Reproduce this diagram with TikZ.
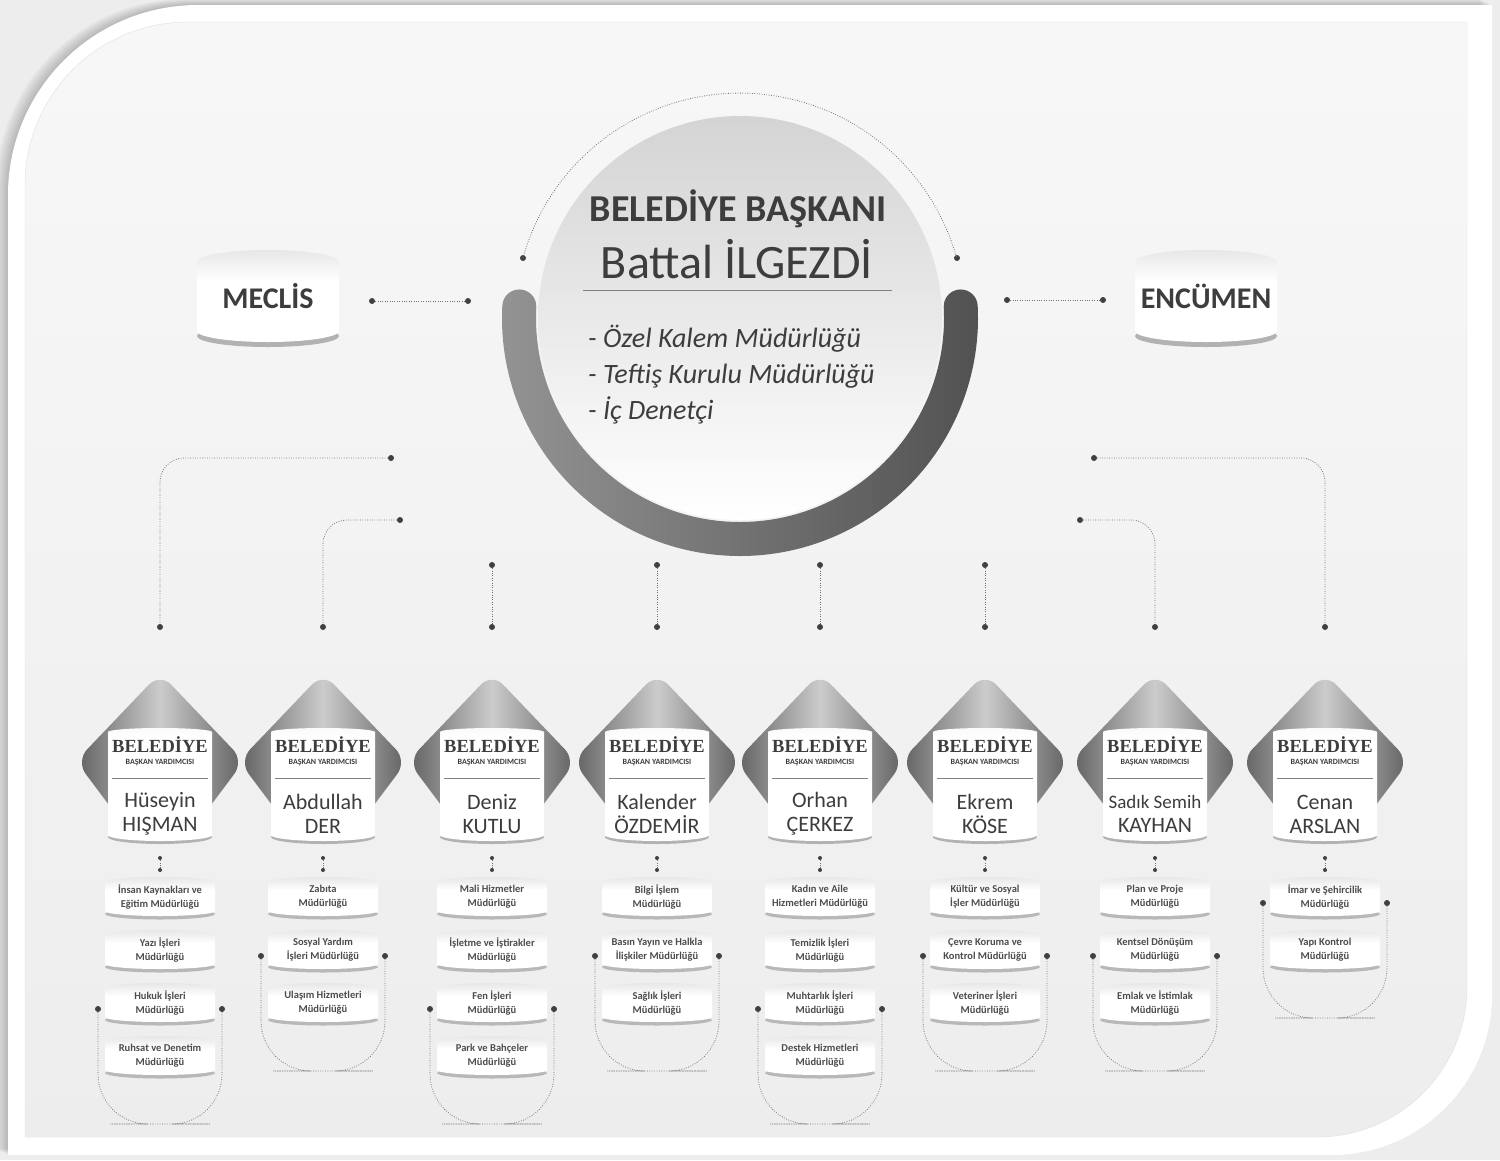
\documentclass[tikz,border=0pt]{standalone}
\usepackage{fontspec}
\setmainfont{Carlito}
\newfontfamily\headserif{Liberation Serif}
\usetikzlibrary{shadings}

\pgfdeclareverticalshading{drumshade}{100bp}{color(0bp)=(white); color(58bp)=(white); color(80bp)=(black!12); color(100bp)=(black!36)}
\pgfdeclareverticalshading{cardshade}{100bp}{color(0bp)=(white); color(70bp)=(white); color(100bp)=(black!12)}

\begin{document}
\begin{tikzpicture}[x=1pt,y=-1pt,
every node/.style={text=black!76},
dotline/.style={draw=black!55, line width=0.8pt, dash pattern=on 0.8pt off 1.6pt},
dot/.style={circle, fill=black!75, inner sep=0pt, minimum size=6pt},
tinydot/.style={circle, fill=black!75, inner sep=0pt, minimum size=4pt},
sepline/.style={draw=black!50, line width=0.9pt},
mayor/.style={circle, inner sep=0pt, minimum size=404pt, top color=black!17, bottom color=white},
mayortitle/.style={anchor=base, inner sep=0pt, font=\fontsize{38}{40}\selectfont\bfseries},
mayorname/.style={anchor=base, inner sep=0pt, font=\fontsize{48}{50}\selectfont},
mayorunits/.style={anchor=north west, inner sep=0pt, align=left, font=\fontsize{28}{36}\selectfont\itshape},
boardtext/.style={anchor=base, inner sep=0pt, font=\fontsize{30}{32}\selectfont\bfseries},
cardhead/.style={anchor=base, inner sep=0pt, font=\headserif\fontsize{18.5}{20}\selectfont\bfseries},
cardsub/.style={anchor=base, inner sep=0pt, font=\fontsize{8}{9}\selectfont\bfseries},
cardname/.style={inner sep=0pt, align=center, font=\fontsize{22}{24}\selectfont},
depttext/.style={inner sep=0pt, align=center, font=\fontsize{10.5}{14}\selectfont\bfseries, text=black!70},
board/.pic={
  \fill[black!30] (0,39) ellipse[x radius=71pt, y radius=11pt];
  \shade[shading=drumshade] (-71,-35) arc[start angle=180, end angle=0, x radius=71pt, y radius=12pt]
    -- (71,34) arc[start angle=0, end angle=-180, x radius=71pt, y radius=11pt] -- cycle;
},
dept/.pic={
  \fill[black!28] (0,17) ellipse[x radius=55pt, y radius=5.5pt];
  \shade[shading=drumshade] (-55,-15) arc[start angle=180, end angle=0, x radius=55pt, y radius=5pt]
    -- (55,14) arc[start angle=0, end angle=-180, x radius=55pt, y radius=5pt] -- cycle;
},
deputy/.pic={
  \shade[left color=black!62, right color=black!62, middle color=black!20, rounded corners=16]
    (0,-92) -- (84,-4) -- (24,76) -- (-24,76) -- (-84,-4) -- cycle;
  \fill[black!30] (0,72) ellipse[x radius=52pt, y radius=7pt];
  \shade[shading=cardshade] (-52,-33) arc[start angle=180, end angle=0, x radius=52pt, y radius=4pt]
    -- (52,70) arc[start angle=0, end angle=-180, x radius=52pt, y radius=6pt] -- cycle;
},
]
\useasboundingbox (0,0) rectangle (1500,1160);

% Frame and panel
\fill[black!7] (0,0) rectangle (1500,1160);
\foreach \s in {2,4,...,12}{
  \fill[black, opacity=0.035, shift={(-\s,-\s/2)}] (8,1155) -- (8,195) arc[start angle=180, end angle=90, radius=190pt]
    -- (1492,5) -- (1492,995) arc[start angle=0, end angle=-90, radius=160pt] -- cycle;
}
\fill[white] (8,1155) -- (8,195) arc[start angle=180, end angle=90, radius=190pt]
  -- (1492,5) -- (1492,995) arc[start angle=0, end angle=-90, radius=160pt] -- cycle;
\shadedraw[top color=black!3, bottom color=black!7, draw=black!12] (25,1137) -- (25,185) arc[start angle=180, end angle=90, radius=163pt]
  -- (1467,22) -- (1467,987) arc[start angle=0, end angle=-90, radius=150pt] -- cycle;

% Mayor
\coordinate (mc) at (740,318);
\node[dot] (arcL) at (523,258) {};
\node[dot] (arcR) at (957,258) {};
\draw[dotline] (arcL.center) arc[start angle=164.5, end angle=15.5, radius=225pt];
\shade[left color=black!42, right color=black!68] (mc) ++(177:238pt) arc[start angle=177, end angle=363, radius=238pt]
  arc[start angle=3, end angle=183, radius=17pt] arc[start angle=363, end angle=177, radius=204pt]
  arc[start angle=357, end angle=537, radius=17pt] -- cycle;
\node[mayor] (mayor) at (mc) {};
\node[mayortitle] (title) at (738,221) {BELEDİYE BAŞKANI};
\node[mayorname] (mname) at (737,278) {Battal İLGEZDİ};
\draw[sepline] (583,290) -- (892,290);
\node[mayorunits] (units) at (588,325) {- Özel Kalem Müdürlüğü\\- Teftiş Kurulu Müdürlüğü\\- İç Denetçi};

% Meclis and Encumen
\pic at (268,297) {board};
\node[boardtext] (meclis) at (268,308) {MECLİS};
\pic at (1206,297) {board};
\node[boardtext] (encumen) at (1206,308) {ENCÜMEN};
\node[dot] (ml) at (372,301) {};
\node[dot] (mr) at (468,301) {};
\draw[dotline] (ml) -- (mr);
\node[dot] (el) at (1007,300) {};
\node[dot] (er) at (1103,300) {};
\draw[dotline] (el) -- (er);

% Links down to the deputies
\foreach \i/\sx/\sy/\ex in {1/391/458/160, 2/400/520/323, 7/1080/520/1155, 8/1094/458/1325}{
  \node[dot] (s\i) at (\sx,\sy) {};
  \node[dot] (e\i) at (\ex,627) {};
  \draw[dotline, rounded corners=24] (s\i) -| (e\i);
}
\foreach \i/\ex in {3/492, 4/657, 5/820, 6/985}{
  \node[dot] (s\i) at (\ex,565) {};
  \node[dot] (e\i) at (\ex,627) {};
  \draw[dotline] (s\i) -- (e\i);
}

% Deputies and their departments
\foreach \i/\cx/\fname/\lname/\n/\items in {
 1/160/Hüseyin/HIŞMAN/4/{İnsan Kaynakları ve\\Eğitim Müdürlüğü,Yazı İşleri\\Müdürlüğü,Hukuk İşleri\\Müdürlüğü,Ruhsat ve Denetim\\Müdürlüğü},
 2/323/Abdullah/DER/3/{Zabıta\\Müdürlüğü,Sosyal Yardım\\İşleri Müdürlüğü,Ulaşım Hizmetleri\\Müdürlüğü},
 3/492/Deniz/KUTLU/4/{Mali Hizmetler\\Müdürlüğü,İşletme ve İştirakler\\Müdürlüğü,Fen İşleri\\Müdürlüğü,Park ve Bahçeler\\Müdürlüğü},
 4/657/Kalender/ÖZDEMİR/3/{Bilgi İşlem\\Müdürlüğü,Basın Yayın ve Halkla\\İlişkiler Müdürlüğü,Sağlık İşleri\\Müdürlüğü},
 5/820/Orhan/ÇERKEZ/4/{Kadın ve Aile\\Hizmetleri Müdürlüğü,Temizlik İşleri\\Müdürlüğü,Muhtarlık İşleri\\Müdürlüğü,Destek Hizmetleri\\Müdürlüğü},
 6/985/Ekrem/KÖSE/3/{Kültür ve Sosyal\\İşler Müdürlüğü,Çevre Koruma ve\\Kontrol Müdürlüğü,Veteriner İşleri\\Müdürlüğü},
 7/1155/{\fontsize{19}{24}\selectfont Sadık Semih}/KAYHAN/3/{Plan ve Proje\\Müdürlüğü,Kentsel Dönüşüm\\Müdürlüğü,Emlak ve İstimlak\\Müdürlüğü},
 8/1325/Cenan/ARSLAN/2/{İmar ve Şehircilik\\Müdürlüğü,Yapı Kontrol\\Müdürlüğü}}{
  \pic at (\cx,765) {deputy};
  \node[cardhead] (dh\i) at (\cx,752) {BELEDİYE};
  \node[cardsub] (ds\i) at (\cx,764) {BAŞKAN YARDIMCISI};
  \draw[sepline] (\cx-48,778) -- (\cx+48,778);
  \node[cardname] (dn\i) at (\cx,814) {{\fname}\\{\lname}};
  \node[tinydot] (cu\i) at (\cx,858) {};
  \node[tinydot] (cl\i) at (\cx,870) {};
  \draw[dotline] (cu\i) -- (cl\i);
  \foreach \dept [count=\j] in \items{
    \pgfmathsetmacro\yy{897+53*(\j-1)}
    \pic at (\cx,\yy) {dept};
    \node[depttext] (d\i-\j) at (\cx,\yy) {\dept};
  }
  % bracket round the last two
  \pgfmathsetmacro\yd{897+53*(\n-2)+6}
  \pgfmathsetmacro\yb{897+53*(\n-1)+68}
  \node[dot] (bl\i) at (\cx-62,\yd) {};
  \node[dot] (br\i) at (\cx+62,\yd) {};
  \coordinate (ub\i) at (\cx,\yb);
  \draw[dotline, rounded corners=50] (bl\i) |- (ub\i) -| (br\i);
}
\end{tikzpicture}
\end{document}
